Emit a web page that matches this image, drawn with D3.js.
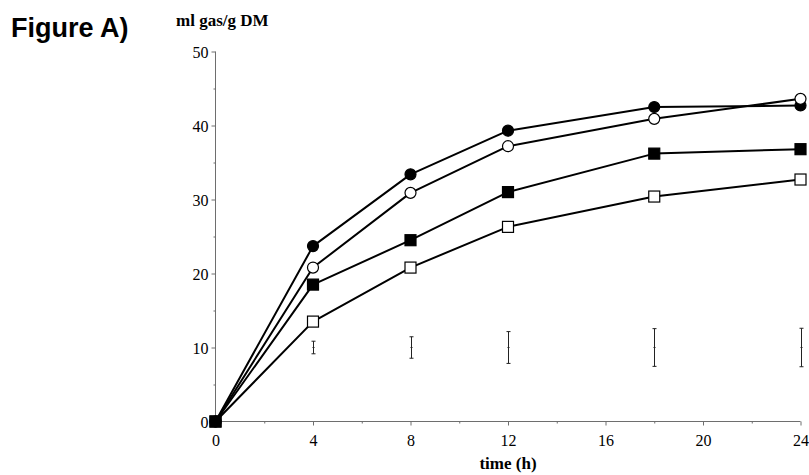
<!DOCTYPE html>
<html>
<head>
<meta charset="utf-8">
<script src="https://cdn.jsdelivr.net/npm/d3@7"></script>
<style>
  html, body { margin: 0; padding: 0; background: #fff; }
  svg { display: block; }
</style>
</head>
<body>
<svg id="chart" width="809" height="475"></svg>
<script>
// Incubation times (h) and cumulative gas production (ml gas / g DM)
const times = [0, 4, 8, 12, 18, 24];
const filledCircle = [0, 23.7, 33.4, 39.3, 42.5, 42.7];
const openCircle   = [0, 20.8, 30.9, 37.2, 40.9, 43.6];
const filledSquare = [0, 18.5, 24.5, 31.0, 36.2, 36.8];
const openSquare   = [0, 13.5, 20.8, 26.3, 30.4, 32.7];

// Pooled error bars (centre and half-width), drawn separately below the curves
const errTimes  = [4, 8, 12, 18, 24];
const errCentre = [10, 10, 10, 10, 10];
const errHalf   = [0.85, 1.45, 2.15, 2.55, 2.6];

const yTicks = [0, 10, 20, 30, 40, 50];
const xTicks = [0, 4, 8, 12, 16, 20, 24];

const svg = d3.select("#chart");
const x = d3.scaleLinear().domain([0, 24]).range([215.5, 800.5]);
const y = d3.scaleLinear().domain([0, 50]).range([421.5, 51.5]);

const axisColor = "#6e6e6e";
const serif = "'Liberation Serif', 'Times New Roman', serif";

// Title
svg.append("text")
  .attr("x", 11).attr("y", 37)
  .attr("font-family", "'Liberation Sans', Arial, sans-serif")
  .attr("font-weight", "bold").attr("font-size", 27)
  .text("Figure A)");

// Y axis title
svg.append("text")
  .attr("x", 176).attr("y", 26)
  .attr("font-family", serif).attr("font-weight", "bold").attr("font-size", 17)
  .text("ml gas/g DM");

// X axis title
svg.append("text")
  .attr("x", x(12)).attr("y", 469).attr("text-anchor", "middle")
  .attr("font-family", serif).attr("font-weight", "bold").attr("font-size", 17)
  .text("time (h)");

// Y axis: labelled ticks every 10, short minor ticks in between
const gy = svg.append("g").attr("transform", `translate(${x(0)},0)`);
gy.call(d3.axisLeft(y).tickValues(yTicks).tickSize(4).tickPadding(3).tickFormat(d3.format("d")));
const gyMinor = gy.append("g").call(d3.axisLeft(y).tickValues(d3.range(5, 50, 10)).tickSize(2).tickFormat(""));
gyMinor.select("path.domain").remove();
gy.selectAll(".tick line").attr("stroke", axisColor);
gy.selectAll(".tick text").attr("font-family", serif).attr("font-size", 16).attr("fill", "#000").attr("dy", "0.4em");
gy.select("path.domain").attr("stroke", axisColor).attr("d", `M0,${y(0)}V${y(50)}`);

// X axis: labelled ticks every 4 h, minor ticks in between
const gx = svg.append("g").attr("transform", `translate(0,${y(0)})`);
gx.call(d3.axisBottom(x).tickValues(xTicks).tickSize(4).tickPadding(9).tickFormat(d3.format("d")));
const gxMinor = gx.append("g").call(d3.axisBottom(x).tickValues(d3.range(2, 24, 4)).tickSize(2).tickFormat(""));
gxMinor.select("path.domain").remove();
gx.selectAll(".tick line").attr("stroke", axisColor);
gx.selectAll(".tick text").attr("font-family", serif).attr("font-size", 16).attr("fill", "#000");
gx.select("path.domain").attr("stroke", axisColor).attr("d", `M${x(0)},0H${x(24)}`);

// Error bars
const errG = svg.append("g").attr("stroke", "#222").attr("stroke-width", 1);
errTimes.forEach((t, i) => {
  const cx = Math.round(x(t)) + 0.5;
  const top = y(errCentre[i] + errHalf[i]);
  const bot = y(errCentre[i] - errHalf[i]);
  errG.append("line").attr("x1", cx).attr("x2", cx).attr("y1", top).attr("y2", bot);
  errG.append("line").attr("x1", cx - 2).attr("x2", cx + 2).attr("y1", top).attr("y2", top);
  errG.append("line").attr("x1", cx - 2).attr("x2", cx + 2).attr("y1", bot).attr("y2", bot);
  errG.append("line").attr("x1", cx - 1).attr("x2", cx + 1).attr("y1", y(errCentre[i])).attr("y2", y(errCentre[i]));
});

const series = [
  { values: filledCircle, shape: "circle", fill: "#000" },
  { values: openCircle,   shape: "circle", fill: "#fff" },
  { values: openSquare,   shape: "square", fill: "#fff" },
  { values: filledSquare, shape: "square", fill: "#000" }
];

const line = d3.line().x((d, i) => x(times[i])).y(d => y(d));

// Curves
series.forEach(s => {
  svg.append("path").datum(s.values)
    .attr("d", line).attr("fill", "none")
    .attr("stroke", "#000").attr("stroke-width", 2)
    .attr("stroke-linejoin", "round");
});

// Markers
series.forEach(s => {
  const g = svg.append("g");
  if (s.shape === "circle") {
    g.selectAll("circle").data(s.values).join("circle")
      .attr("cx", (d, i) => x(times[i])).attr("cy", d => y(d))
      .attr("r", 5.5).attr("fill", s.fill).attr("stroke", "#000").attr("stroke-width", 1.2);
  } else {
    g.selectAll("rect").data(s.values).join("rect")
      .attr("x", (d, i) => x(times[i]) - 5.5).attr("y", d => y(d) - 5.5)
      .attr("width", 11).attr("height", 11)
      .attr("fill", s.fill).attr("stroke", "#000").attr("stroke-width", 1.2);
  }
});
</script>
</body>
</html>
